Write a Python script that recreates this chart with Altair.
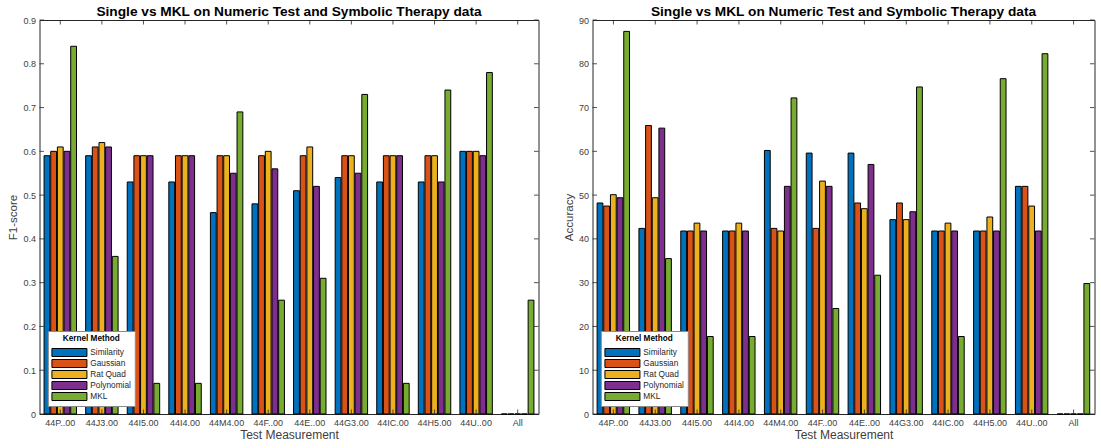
import altair as alt
import pandas as pd

categories = ["44P..00", "44J3.00", "44I5.00", "44I4.00", "44M4.00", "44F..00",
              "44E..00", "44G3.00", "44IC.00", "44H5.00", "44U..00", "All"]
methods = ["Similarity", "Gaussian", "Rat Quad", "Polynomial", "MKL"]
colors = ["#0072BD", "#D95319", "#EDB120", "#7E2F8E", "#77AC30"]

f1_similarity = [0.59, 0.59, 0.53, 0.53, 0.46, 0.48, 0.51, 0.54, 0.53, 0.53, 0.60, 0.0]
f1_gaussian   = [0.60, 0.61, 0.59, 0.59, 0.59, 0.59, 0.59, 0.59, 0.59, 0.59, 0.60, 0.0]
f1_ratquad    = [0.61, 0.62, 0.59, 0.59, 0.59, 0.60, 0.61, 0.59, 0.59, 0.59, 0.60, 0.0]
f1_polynomial = [0.60, 0.61, 0.59, 0.59, 0.55, 0.56, 0.52, 0.55, 0.59, 0.53, 0.59, 0.0]
f1_mkl        = [0.84, 0.36, 0.07, 0.07, 0.69, 0.26, 0.31, 0.73, 0.07, 0.74, 0.78, 0.26]

acc_similarity = [48.2, 42.4, 41.8, 41.8, 60.2, 59.6, 59.6, 44.4, 41.8, 41.8, 52.0, 0.0]
acc_gaussian   = [47.5, 65.9, 41.8, 41.8, 42.4, 42.4, 48.2, 48.2, 41.8, 41.8, 52.0, 0.0]
acc_ratquad    = [50.1, 49.4, 43.6, 43.6, 41.8, 53.2, 46.9, 44.4, 43.6, 45.0, 47.5, 0.0]
acc_polynomial = [49.4, 65.3, 41.8, 41.8, 52.0, 52.0, 57.0, 46.2, 41.8, 41.8, 41.8, 0.0]
acc_mkl        = [87.4, 35.5, 17.7, 17.7, 72.2, 24.1, 31.7, 74.7, 17.7, 76.6, 82.3, 29.8]

f1_ticks = [0, 0.1, 0.2, 0.3, 0.4, 0.5, 0.6, 0.7, 0.8, 0.9]
acc_ticks = [0, 10, 20, 30, 40, 50, 60, 70, 80, 90]

title_text = "Single vs MKL on Numeric Test and Symbolic Therapy data"
FONT = "Liberation Sans"
H = 394


def long_frame(series):
    rows = []
    for m, vals in zip(methods, series):
        for c, v in zip(categories, vals):
            rows.append({"Measurement": c, "Method": m, "Value": v})
    return pd.DataFrame(rows)


def panel(series, ytitle, ymax, yticks, lx, ly, yfmt, W):
    df = long_frame(series)
    xscale = alt.Scale(domain=categories, paddingInner=0.22, paddingOuter=0.11)
    yscale = alt.Scale(domain=[0, ymax], nice=False, zero=True)
    xax = alt.Axis(labelAngle=0, ticks=False, domain=False, grid=False,
                   labelFontSize=9, labelColor="#404040", labelPadding=4,
                   titleFontSize=12, titleColor="#404040", titleFontWeight="normal",
                   titlePadding=2)
    yax = alt.Axis(values=yticks, ticks=False, domain=False, grid=False, format=yfmt,
                   labelFontSize=9, labelColor="#404040", labelPadding=4,
                   titleFontSize=11.5, titleColor="#404040", titleFontWeight="normal",
                   titlePadding=4)
    xt = "Test Measurement"
    bars = alt.Chart(df).mark_bar(stroke="black", strokeWidth=1).encode(
        x=alt.X("Measurement:N", sort=categories, title=xt, scale=xscale, axis=xax),
        xOffset=alt.XOffset("Method:N", sort=methods,
                            scale=alt.Scale(domain=methods, paddingInner=0.13, paddingOuter=0.0)),
        y=alt.Y("Value:Q", title=ytitle, scale=yscale, axis=yax),
        color=alt.Color("Method:N", sort=methods,
                        scale=alt.Scale(domain=methods, range=colors),
                        legend=alt.Legend(title="Kernel Method", orient="none",
                                          legendX=lx, legendY=ly,
                                          symbolType="M-1,-0.914H7V0.914H-1Z",
                                          symbolSize=76.6, symbolStrokeColor="black",
                                          symbolStrokeWidth=1, symbolOpacity=1,
                                          fillColor="white", strokeColor="#8a8a8a",
                                          padding=3.5, rowPadding=-1.5,
                                          titleFontSize=8.2, titleFontWeight="bold",
                                          titleAnchor="middle", titleColor="black",
                                          titlePadding=4.8,
                                          labelFontSize=8.3, labelColor="#262626",
                                          labelOffset=29, labelFont=FONT, titleFont=FONT)),
    )
    cat_df = pd.DataFrame({"Measurement": categories})
    tick_df = pd.DataFrame({"Value": yticks})
    xt_top = alt.Chart(cat_df).mark_rule(color="#262626", strokeWidth=0.8).encode(
        x=alt.X("Measurement:N", sort=categories, title=xt, scale=xscale, axis=xax),
        y=alt.value(0), y2=alt.value(4.5))
    xt_bot = alt.Chart(cat_df).mark_rule(color="#262626", strokeWidth=0.8).encode(
        x=alt.X("Measurement:N", sort=categories, title=xt, scale=xscale, axis=xax),
        y=alt.value(H - 4.5), y2=alt.value(H))
    yt_left = alt.Chart(tick_df).mark_rule(color="#262626", strokeWidth=0.8).encode(
        y=alt.Y("Value:Q", title=ytitle, scale=yscale, axis=yax),
        x=alt.value(0), x2=alt.value(4.5))
    yt_right = alt.Chart(tick_df).mark_rule(color="#262626", strokeWidth=0.8).encode(
        y=alt.Y("Value:Q", title=ytitle, scale=yscale, axis=yax),
        x=alt.value(W - 4.5), x2=alt.value(W))
    return alt.layer(bars, xt_top, xt_bot, yt_left, yt_right).properties(
        width=W, height=H,
        title=alt.TitleParams(title_text, fontSize=13.7, fontWeight="bold", anchor="middle",
                              offset=-2.5, color="black", font=FONT))


left = panel([f1_similarity, f1_gaussian, f1_ratquad, f1_polynomial, f1_mkl],
             "F1-score", 0.9, f1_ticks, 8.3, 311, ".1~f", 499)
right = panel([acc_similarity, acc_gaussian, acc_ratquad, acc_polynomial, acc_mkl],
              "Accuracy", 90, acc_ticks, 8.3, 311, "d", 502)

chart = alt.hconcat(left, right, spacing=23).resolve_scale(color="independent").properties(
    padding={"left": 6.5, "top": 4, "right": 2, "bottom": 0}
).configure_view(stroke="#262626", strokeWidth=1).configure_axis(
    labelFont=FONT, titleFont=FONT
).configure_legend(labelFont=FONT, titleFont=FONT)

chart.save("out.html", embed_options={"renderer": "svg", "actions": False})
